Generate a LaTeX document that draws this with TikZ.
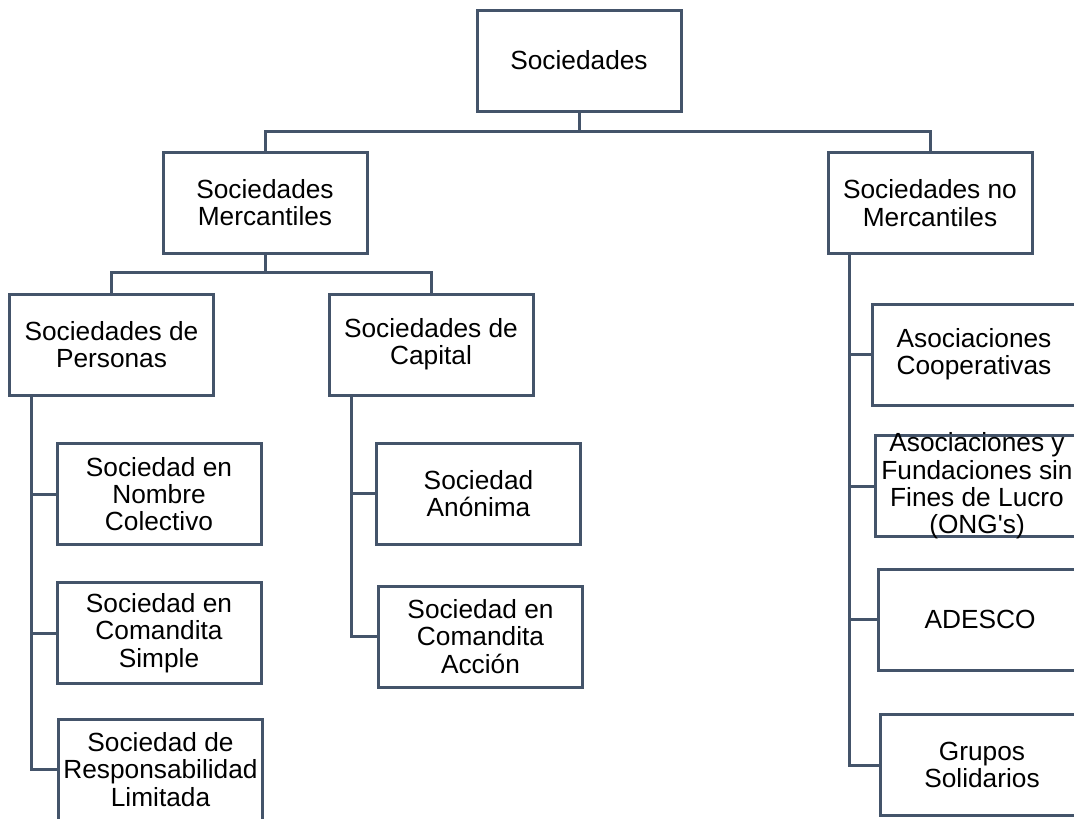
\documentclass[tikz,border=0pt]{standalone}
\usepackage{fontspec}
\setmainfont{Liberation Sans}
\definecolor{edge}{HTML}{44546A}
% straight apostrophe, placed as a glyph so the TeX quote mapping leaves it alone
\newcommand{\straightquote}{\XeTeXglyph\XeTeXcharglyph"0027\relax}
\begin{document}
\begin{tikzpicture}[x=0.75pt,y=-0.75pt,
  orgbox/.style={draw=edge, line width=2.25pt, fill=white,
    minimum width=153pt, minimum height=75.75pt, inner sep=0pt},
  boxtext/.style={align=center, inner sep=0pt,
    font=\fontsize{19.7}{20.5}\selectfont},
  conn/.style={draw=edge, line width=2.25pt}]
\useasboundingbox (0,0) rectangle (1074,818);
\clip (0,0) rectangle (1074,818);

% top level
\node[orgbox] (soc) at (579,60.5) {};
\node[orgbox] (merc) at (265,202.5) {};
\node[orgbox] (nomerc) at (930,203) {};

% mercantile branches
\node[orgbox] (pers) at (111.5,344.5) {};
\node[orgbox] (cap) at (431,344.5) {};
\node[orgbox] (snc) at (159,494) {};
\node[orgbox] (scs) at (159,633) {};
\node[orgbox] (srl) at (160.5,769.5) {};
\node[orgbox] (sa) at (478.5,493.5) {};
\node[orgbox] (sca) at (480.5,636.5) {};

% non-mercantile branches
\node[orgbox] (ac) at (974,354.5) {};
\node[orgbox] (ong) at (977,486) {};
\node[orgbox] (adesco) at (980,619.5) {};
\node[orgbox] (gs) at (982,765) {};

% junction points and trunks
\coordinate (bus1) at (579,131);
\coordinate (bus2) at (265,272);
\coordinate (ptrunk) at (31,0);
\coordinate (ctrunk) at (351,0);
\coordinate (ntrunk) at (849,0);

\draw[conn] (soc.south) -- (bus1);
\draw[conn] (merc.north) |- (bus1) -| (nomerc.north);
\draw[conn] (merc.south) -- (bus2);
\draw[conn] (pers.north) |- (bus2) -| (cap.north);

\draw[conn] (pers.south -| ptrunk) |- (srl.west);
\draw[conn] (snc.west) -- (snc.west -| ptrunk);
\draw[conn] (scs.west) -- (scs.west -| ptrunk);

\draw[conn] (cap.south -| ctrunk) |- (sca.west);
\draw[conn] (sa.west) -- (sa.west -| ctrunk);

\draw[conn] (nomerc.south -| ntrunk) |- (gs.west);
\draw[conn] (ac.west) -- (ac.west -| ntrunk);
\draw[conn] (ong.west) -- (ong.west -| ntrunk);
\draw[conn] (adesco.west) -- (adesco.west -| ntrunk);

% box texts
\node[boxtext] (socT) at (soc) {Sociedades};
\node[boxtext] (mercT) at (merc) {Sociedades\\Mercantiles};
\node[boxtext] (nomercT) at (nomerc) {Sociedades no\\Mercantiles};
\node[boxtext] (persT) at (pers) {Sociedades de\\Personas};
\node[boxtext] (capT) at (cap) {Sociedades de\\Capital};
\node[boxtext] (sncT) at (snc) {Sociedad en\\Nombre\\Colectivo};
\node[boxtext] (scsT) at (scs) {Sociedad en\\Comandita\\Simple};
\node[boxtext] (srlT) at (srl) {Sociedad de\\Responsabilidad\\Limitada};
\node[boxtext] (saT) at (sa) {Sociedad\\Anónima};
\node[boxtext] (scaT) at (sca) {Sociedad en\\Comandita\\Acción};
\node[boxtext] (acT) at (ac) {Asociaciones\\Cooperativas};
\node[boxtext] (ongT) at (ong) {Asociaciones y\\Fundaciones sin\\Fines de Lucro\\(ONG\straightquote s)};
\node[boxtext] (adescoT) at (adesco) {ADESCO};
\node[boxtext] (gsT) at (gs) {Grupos\\Solidarios};
\end{tikzpicture}
\end{document}
